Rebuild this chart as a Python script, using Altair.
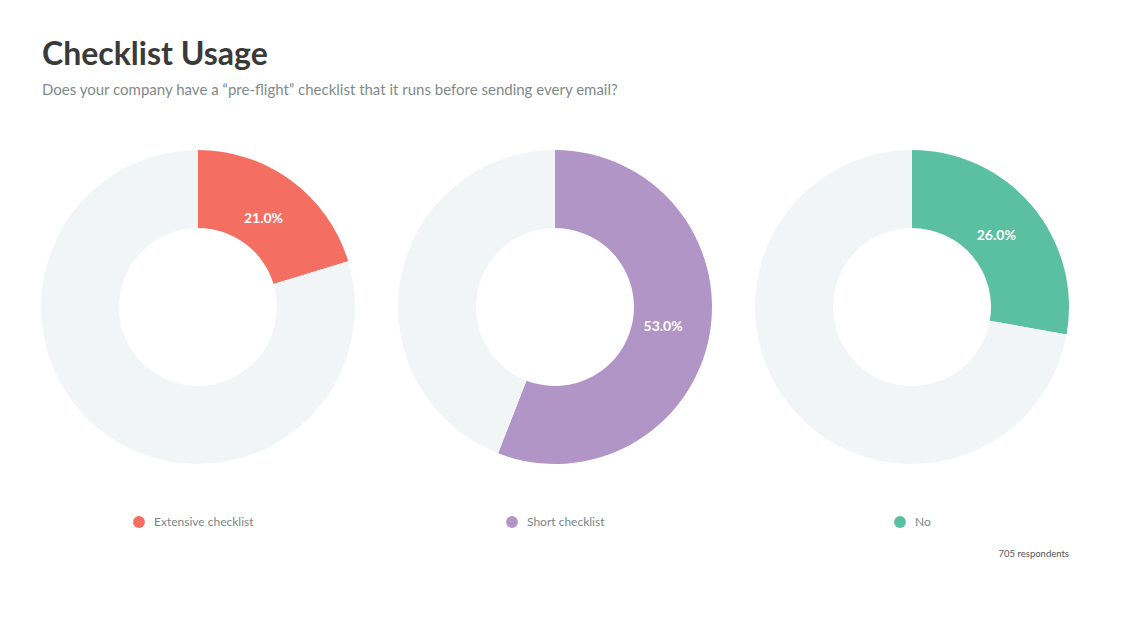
import altair as alt
import pandas as pd

groups = ["Extensive checklist", "Short checklist", "No"]
# shares as drawn by the arcs in the picture
arc_shares = [20.3, 55.9, 27.8]
# values as printed on the labels
label_values = [21.0, 53.0, 26.0]
colors = ["#f46e61", "#b195c6", "#5bc0a1"]
rest_color = "#f2f5f6"
title_text = "Checklist Usage"
subtitle_text = "Does your company have a \u201cpre-flight\u201d checklist that it runs before sending every email?"
footer_text = "705 respondents"

rows = []
for g, v, lv in zip(groups, arc_shares, label_values):
    rows.append({"group": g, "key": g, "part": "value", "amount": v, "lab": lv, "order": 0})
    rows.append({"group": g, "key": "rest", "part": "rest", "amount": 100 - v, "lab": lv, "order": 1})
df = pd.DataFrame(rows)
leg_df = pd.DataFrame({"group": groups})

W, H = 1116, 628
CY = 299
FONT = "Lato"

xscale = alt.Scale(type="point", domain=groups, range=[190, 904], padding=0)
tscale = alt.Scale(domain=[0, 100])
cscale = alt.Scale(domain=groups + ["rest"], range=colors + [rest_color])

base = alt.Chart(df).transform_stack(
    stack="amount", as_=["start", "end"], groupby=["group"], sort=[alt.SortField("order")]
)

arcs = base.mark_arc(outerRadius=157, innerRadius=79).encode(
    x=alt.X("group:N", scale=xscale, axis=None),
    y=alt.value(CY),
    theta=alt.Theta("start:Q", scale=tscale),
    theta2="end:Q",
    color=alt.Color("key:N", scale=cscale, legend=None),
)

labels = base.transform_filter(alt.datum.part == "value").transform_calculate(
    mid="(datum.start + datum.end) / 2",
    label="format(datum.lab, '.1f') + '%'",
).mark_text(radius=110, font=FONT, fontSize=14, fontWeight="bold", color="white").encode(
    x=alt.X("group:N", scale=xscale, axis=None),
    y=alt.value(CY),
    theta=alt.Theta("mid:Q", scale=tscale),
    text="label:N",
)

leg_offsets = {"Extensive checklist": -59, "Short checklist": -43, "No": -12}
legend_layers = []
for g in groups:
    d = alt.Chart(leg_df).transform_filter(alt.datum.group == g)
    legend_layers.append(
        d.mark_circle(size=140, opacity=1, xOffset=leg_offsets[g]).encode(
            x=alt.X("group:N", scale=xscale, axis=None),
            y=alt.value(514),
            color=alt.Color("group:N", scale=cscale, legend=None),
        )
    )
    legend_layers.append(
        d.mark_text(align="left", baseline="middle", xOffset=leg_offsets[g] + 15,
                    font=FONT, fontSize=12, color="#7b8586").encode(
            x=alt.X("group:N", scale=xscale, axis=None),
            y=alt.value(514),
            text="group:N",
        )
    )

title = alt.Chart(pd.DataFrame({"t": [title_text]})).mark_text(
    align="left", baseline="alphabetic", font=FONT, fontSize=32, fontWeight="bold", color="#3a3a3a"
).encode(x=alt.value(34), y=alt.value(57), text="t:N")

subtitle = alt.Chart(pd.DataFrame({"t": [subtitle_text]})).mark_text(
    align="left", baseline="alphabetic", font=FONT, fontSize=15, color="#7f8a8b"
).encode(x=alt.value(34), y=alt.value(87), text="t:N")

footer = alt.Chart(pd.DataFrame({"t": [footer_text]})).mark_text(
    align="right", baseline="middle", font=FONT, fontSize=9.5, color="#555555"
).encode(x=alt.value(1061), y=alt.value(546), text="t:N")

chart = alt.layer(arcs, labels, *legend_layers, title, subtitle, footer).properties(
    width=W, height=H,
    autosize=alt.AutoSizeParams(type="none"),
    padding=0,
    background="white",
).configure_view(stroke=None)

chart.save("out.html", embed_options={"renderer": "svg", "actions": False})
